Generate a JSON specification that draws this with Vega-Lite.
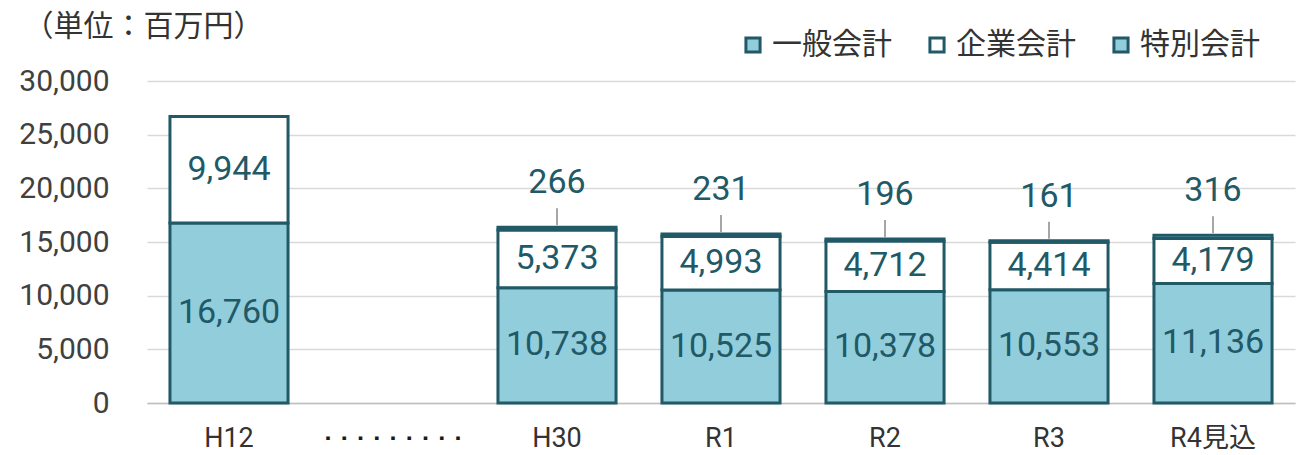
{
  "$schema": "https://vega.github.io/schema/vega-lite/v6.json",
  "width": 1148,
  "height": 322,
  "autosize": {"type": "none"},
  "padding": {"left": 147, "top": 81, "right": 2, "bottom": 52},
  "background": "white",
  "config": {"view": {"stroke": null}, "font": "Roboto, Noto Sans CJK JP"},
  "data": {
    "values": [
      {"cat": "H12", "type": "一般会計", "value": 16760, "ord": 1},
      {"cat": "H12", "type": "企業会計", "value": 9944, "ord": 2},
      {"cat": "H30", "type": "一般会計", "value": 10738, "ord": 1},
      {"cat": "H30", "type": "企業会計", "value": 5373, "ord": 2},
      {"cat": "H30", "type": "特別会計", "value": 266, "ord": 3},
      {"cat": "R1", "type": "一般会計", "value": 10525, "ord": 1},
      {"cat": "R1", "type": "企業会計", "value": 4993, "ord": 2},
      {"cat": "R1", "type": "特別会計", "value": 231, "ord": 3},
      {"cat": "R2", "type": "一般会計", "value": 10378, "ord": 1},
      {"cat": "R2", "type": "企業会計", "value": 4712, "ord": 2},
      {"cat": "R2", "type": "特別会計", "value": 196, "ord": 3},
      {"cat": "R3", "type": "一般会計", "value": 10553, "ord": 1},
      {"cat": "R3", "type": "企業会計", "value": 4414, "ord": 2},
      {"cat": "R3", "type": "特別会計", "value": 161, "ord": 3},
      {"cat": "R4見込", "type": "一般会計", "value": 11136, "ord": 1},
      {"cat": "R4見込", "type": "企業会計", "value": 4179, "ord": 2},
      {"cat": "R4見込", "type": "特別会計", "value": 316, "ord": 3}
    ]
  },
  "encoding": {
    "x": {
      "field": "cat",
      "type": "nominal",
      "scale": {
        "domain": ["H12", "dots", "H30", "R1", "R2", "R3", "R4見込"],
        "paddingInner": 0.28,
        "paddingOuter": 0.14
      },
      "axis": {
        "title": null,
        "labelAngle": 0,
        "ticks": false,
        "domainColor": "#bfbfbf",
        "domainWidth": 1.5,
        "labelBaseline": "middle",
        "labelPadding": 35,
        "labelLimit": 400,
        "labelFontSize": {"condition": {"test": "datum.value == 'dots'", "value": 13}, "value": 27},
        "labelColor": {"condition": {"test": "datum.value == 'dots'", "value": "#1a1a1a"}, "value": "#333333"},
        "labelFont": "Roboto, Noto Sans CJK JP",
        "labelExpr": "datum.value == 'dots' ? '▪ ▪ ▪ ▪ ▪ ▪ ▪ ▪ ▪' : datum.value"
      }
    }
  },
  "layer": [
    {
      "mark": {"type": "bar", "stroke": "#215967", "strokeWidth": 3},
      "encoding": {
        "y": {
          "field": "value",
          "type": "quantitative",
          "aggregate": "sum",
          "stack": "zero",
          "scale": {"domain": [0, 30000], "nice": false},
          "axis": {
            "title": "（単位：百万円）",
            "titleAngle": 0,
            "titleX": -124,
            "titleY": -55,
            "titleAlign": "left",
            "titleBaseline": "middle",
            "titleFont": "Noto Sans CJK JP",
            "titleFontSize": 30,
            "titleFontWeight": "normal",
            "titleColor": "#333333",
            "values": [0, 5000, 10000, 15000, 20000, 25000, 30000],
            "format": ",d",
            "domain": false,
            "ticks": false,
            "gridColor": "#d9d9d9",
            "gridWidth": 1.5,
            "labelFontSize": 30,
            "labelColor": "#404040",
            "labelPadding": 38,
            "labelFont": "Roboto"
          }
        },
        "color": {
          "field": "type",
          "type": "nominal",
          "scale": {
            "domain": ["一般会計", "企業会計", "特別会計"],
            "range": ["#92CDDC", "#FFFFFF", "#92CDDC"]
          },
          "legend": {
            "title": null,
            "orient": "none",
            "legendX": 591,
            "legendY": -51,
            "direction": "horizontal",
            "symbolType": "square",
            "symbolSize": 200,
            "symbolStrokeColor": "#215967",
            "symbolStrokeWidth": 3,
            "symbolOpacity": 1,
            "labelFontSize": 30,
            "labelFont": "Noto Sans CJK JP",
            "labelColor": "#333333",
            "labelOffset": 4,
            "columnPadding": 30
          }
        },
        "order": {"field": "ord", "type": "quantitative"}
      }
    },
    {
      "transform": [
        {"filter": "datum.type != '特別会計'"},
        {"stack": "value", "groupby": ["cat"], "sort": [{"field": "ord", "order": "ascending"}], "as": ["v0", "v1"]},
        {"calculate": "(datum.v0 + datum.v1) / 2", "as": "mid"}
      ],
      "mark": {"type": "text", "fontSize": 34, "color": "#215967", "font": "Roboto", "baseline": "middle"},
      "encoding": {
        "y": {"field": "mid", "type": "quantitative"},
        "text": {"field": "value", "type": "quantitative", "format": ","}
      }
    },
    {
      "transform": [
        {"joinaggregate": [{"op": "sum", "field": "value", "as": "total"}], "groupby": ["cat"]},
        {"filter": "datum.type == '特別会計'"}
      ],
      "mark": {"type": "rule", "color": "#a6a6a6", "strokeWidth": 2, "yOffset": -2, "y2Offset": -19},
      "encoding": {
        "y": {"field": "total", "type": "quantitative"},
        "y2": {"field": "total"}
      }
    },
    {
      "transform": [
        {"joinaggregate": [{"op": "sum", "field": "value", "as": "total"}], "groupby": ["cat"]},
        {"filter": "datum.type == '特別会計'"}
      ],
      "mark": {"type": "text", "fontSize": 34, "color": "#215967", "font": "Roboto", "baseline": "middle", "dy": -44},
      "encoding": {
        "y": {"field": "total", "type": "quantitative"},
        "text": {"field": "value", "type": "quantitative", "format": ","}
      }
    }
  ]
}
